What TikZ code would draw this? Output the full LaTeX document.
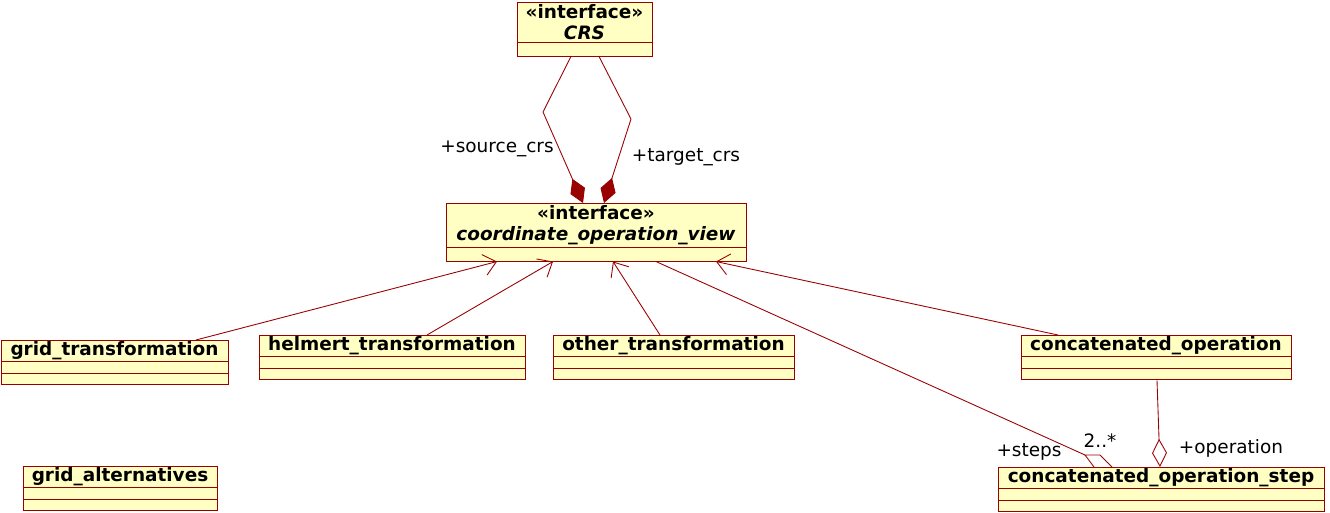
\documentclass[tikz,border=0pt]{standalone}
\usepackage{fontspec}
\setmainfont{DejaVu Sans}
\usepackage{xcolor}
\definecolor{umlred}{HTML}{990000}
\definecolor{umlfill}{HTML}{FFFFC4}
\usepackage{tikz}
\usetikzlibrary{shapes.multipart,arrows.meta,calc}

\begin{document}
\begin{tikzpicture}[
  x=0.02cm, y=-0.02cm,
  umlclass/.style={
    rectangle split, rectangle split parts=3, anchor=north,
    draw=umlred, fill=umlfill, line width=0.5pt, align=center,
    font=\fontsize{10.5}{11.9}\selectfont\bfseries, inner ysep=0.4pt,
    rectangle split empty part height=2pt, rectangle split empty part depth=0pt
  },
  umliface/.style={umlclass, rectangle split parts=2, inner ysep=1pt,
    rectangle split empty part height=1pt},
  gen/.style={draw=umlred, line width=0.5pt, -{Straight Barb[length=7pt,width=12pt]}},
  compo/.style={draw=umlred, line width=0.5pt, -{Diamond[length=15pt,width=9pt,fill=umlred]}},
  aggr/.style={draw=umlred, line width=0.5pt, -{Diamond[open,length=16pt,width=8.5pt,fill=white]}},
  role/.style={font=\fontsize{10.5}{12}\selectfont}
]
\useasboundingbox (0,0) rectangle (1330,513);

% Interfaces
\node[umliface, minimum width=135*0.02cm] (crs) at (584.5,2)
  {«interface»\\\textit{CRS}\nodepart{two}};
\node[umliface, minimum width=300*0.02cm] (cov) at (596,203)
  {«interface»\\\textit{coordinate\_operation\_view}\nodepart{two}};

% Classes
\node[umlclass, minimum width=227*0.02cm] (grid) at (114.5,340) {grid\_transformation\nodepart{two}\nodepart{three}};
\node[umlclass, minimum width=266*0.02cm] (helm) at (392,335) {helmert\_transformation\nodepart{two}\nodepart{three}};
\node[umlclass, minimum width=241*0.02cm] (other) at (673.5,335) {other\_transformation\nodepart{two}\nodepart{three}};
\node[umlclass, minimum width=270*0.02cm] (concat) at (1156,335) {concatenated\_operation\nodepart{two}\nodepart{three}};
\node[umlclass, minimum width=326*0.02cm] (step) at (1161,467) {concatenated\_operation\_step\nodepart{two}\nodepart{three}};
\node[umlclass, minimum width=194*0.02cm] (alt) at (120,466) {grid\_alternatives\nodepart{two}\nodepart{three}};

% CRS roles
\draw[compo] ($(crs.south)+(-13.5,0)$) -- (543,112) -- ($(cov.north)+(-13,0)$);
\draw[compo] ($(crs.south)+(14.5,0)$) -- (631,119) -- ($(cov.north)+(8,0)$);
\node[role] (srclbl) at (497,149) {+source\_crs};
\node[role] (tgtlbl) at (686,157) {+target\_crs};

% Realisations
\draw[gen] ($(grid.north)+(81.5,0)$) -- ($(cov.south)+(-99,0)$);
\draw[gen] ($(helm.north)+(35,0)$) -- ($(cov.south)+(-43,0)$);
\draw[gen] ($(other.north)+(-13.5,0)$) -- ($(cov.south)+(17,0)$);
\draw[gen] ($(concat.north)+(-98,0)$) -- ($(cov.south)+(120,0)$);

% Steps
\coordinate (stepend) at ($(step.north)+(-76,-12)$);
\draw[draw=umlred, line width=0.5pt] ($(cov.south)+(60,0)$) -- (stepend);
\draw[draw=umlred, line width=0.5pt] ($(step.north)+(-67,0)$) -- (stepend) -- ++(15,0) -- ($(step.north)+(-49,0)$);
\node[role] (steplbl) at (1029,452) {+steps};
\node[role] (multlbl) at (1100,441) {2..*};

% Operation
\draw[aggr] ($(concat.south)+(1,0)$) -- ($(step.north)+(-1,0)$);
\node[role] (oplbl) at (1231,448) {+operation};
\end{tikzpicture}
\end{document}
